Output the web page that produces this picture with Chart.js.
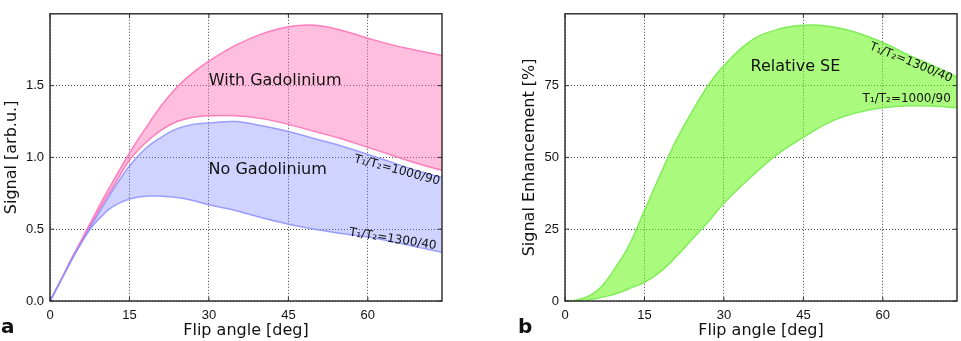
<!DOCTYPE html>
<html>
<head>
<meta charset="utf-8">
<script src="https://cdn.jsdelivr.net/npm/chart.js@4.4.1/dist/chart.umd.min.js"></script>
<style>
  body { margin: 0; background: #fff; }
  #wrap { position: relative; width: 961px; height: 341px; }
  #left { position: absolute; left: 0; top: 0; }
  #right { position: absolute; left: 480px; top: 0; }
</style>
</head>
<body>
<div id="wrap">
  <canvas id="left" width="480" height="341"></canvas>
  <canvas id="right" width="481" height="341"></canvas>
</div>
<script>
// flip angles (deg) the curves are sampled at
var flipAngle = [0, 2, 4, 6, 8, 10, 12, 15, 18, 21, 24, 27, 30, 35, 40, 45, 50, 55, 60, 65, 70, 74];

// panel a - signal [arb.u.]
var withGdUpper = [0, 0.14, 0.29, 0.43, 0.57, 0.71, 0.84, 1.03, 1.20, 1.36, 1.49, 1.59, 1.67, 1.78, 1.86, 1.91, 1.92, 1.885, 1.83, 1.78, 1.74, 1.71];
var withGdLower = [0, 0.14, 0.29, 0.42, 0.55, 0.68, 0.80, 0.98, 1.10, 1.19, 1.25, 1.28, 1.29, 1.29, 1.27, 1.23, 1.18, 1.13, 1.07, 1.01, 0.95, 0.91];
var noGdUpper = [0, 0.14, 0.28, 0.41, 0.54, 0.66, 0.78, 0.94, 1.06, 1.14, 1.20, 1.23, 1.24, 1.25, 1.22, 1.18, 1.13, 1.08, 1.02, 0.96, 0.90, 0.86];
var noGdLower = [0, 0.14, 0.28, 0.41, 0.52, 0.60, 0.66, 0.71, 0.73, 0.73, 0.72, 0.70, 0.67, 0.63, 0.58, 0.535, 0.50, 0.47, 0.445, 0.41, 0.37, 0.34];

// panel b - relative signal enhancement [%]
var seUpper = [0, 0.3, 1.3, 3.5, 7.5, 13, 19, 31.5, 44, 56, 66, 75, 82, 90.5, 94.5, 96, 95.6, 93.5, 90, 85.5, 81.5, 78];
var seLower = [0, 0.05, 0.3, 0.9, 1.7, 2.8, 4.2, 6.5, 10.2, 15.5, 21.5, 27.5, 34, 43, 51, 57, 62.3, 65.5, 67.3, 68, 67.8, 67.3];

// tick labels
var angleTicks = [0, 15, 30, 45, 60];
var signalTicks = [0, 0.5, 1.0, 1.5];
var seTicks = [0, 25, 50, 75];

function pts(ys) {
    return flipAngle.map(function (x, i) { return { x: x, y: ys[i] }; });
}

/* text drawn at data positions */
var notesPlugin = {
    id: "notes",
    afterDatasetsDraw: function (chart, args, opts) {
        var ctx = chart.ctx;
        (opts.items || []).forEach(function (n) {
            ctx.save();
            ctx.translate(chart.scales.x.getPixelForValue(n.x), chart.scales.y.getPixelForValue(n.y));
            ctx.rotate(n.angle * Math.PI / 180);
            ctx.font = n.size + 'px "DejaVu Sans"';
            ctx.fillStyle = "#111";
            ctx.textAlign = "center";
            ctx.textBaseline = "middle";
            ctx.fillText(n.text, 0, 0);
            ctx.restore();
        });
    }
};

/* box round the plot, inward ticks, panel letter */
var framePlugin = {
    id: "frame",
    afterDraw: function (chart, args, opts) {
        var ctx = chart.ctx, a = chart.chartArea;
        ctx.save();
        ctx.strokeStyle = "#333";
        ctx.lineWidth = 1.5;
        ctx.strokeRect(a.left, a.top, a.right - a.left, a.bottom - a.top);
        ctx.lineWidth = 1;
        ctx.beginPath();
        chart.scales.x.ticks.forEach(function (t) {
            var px = chart.scales.x.getPixelForValue(t.value);
            ctx.moveTo(px, a.bottom); ctx.lineTo(px, a.bottom - 4);
            ctx.moveTo(px, a.top); ctx.lineTo(px, a.top + 4);
        });
        chart.scales.y.ticks.forEach(function (t) {
            var py = chart.scales.y.getPixelForValue(t.value);
            ctx.moveTo(a.left, py); ctx.lineTo(a.left + 4, py);
            ctx.moveTo(a.right, py); ctx.lineTo(a.right - 4, py);
        });
        ctx.stroke();
        ctx.font = 'bold 20px "DejaVu Sans"';
        ctx.fillStyle = "#111";
        ctx.textAlign = "left";
        ctx.textBaseline = "alphabetic";
        ctx.fillText(opts.letter, opts.lx, opts.ly);
        ctx.restore();
    }
};

var gridStyle = {
    color: "#444",
    lineWidth: 1,
    drawTicks: false
};

function makeScales(yMin, yMax, yTicks, yTitle, yFmt, yWidth, yTitlePad) {
    return {
        x: {
            type: "linear",
            min: 0,
            max: 74,
            afterBuildTicks: function (ax) { ax.ticks = angleTicks.map(function (v) { return { value: v }; }); },
            afterFit: function (ax) { ax.height = 40; },
            border: { display: false, dash: [1, 2] },
            grid: gridStyle,
            ticks: { padding: 7, color: "#111", font: { family: "Liberation Sans", size: 13 }, maxRotation: 0 },
            title: { display: true, text: "Flip angle [deg]", color: "#111",
                     font: { family: "DejaVu Sans", size: 16 }, padding: { top: 0, bottom: 1 } }
        },
        y: {
            type: "linear",
            min: yMin,
            max: yMax,
            afterBuildTicks: function (ax) { ax.ticks = yTicks.map(function (v) { return { value: v }; }); },
            afterFit: function (ax) { ax.width = yWidth; },
            border: { display: false, dash: [1, 2] },
            grid: gridStyle,
            ticks: { padding: 6, color: "#111", font: { family: "Liberation Sans", size: 13 }, callback: yFmt },
            title: { display: true, text: yTitle, color: "#111",
                     font: { family: "DejaVu Sans", size: 16 }, padding: { top: yTitlePad, bottom: 0 } }
        }
    };
}

var lineBase = { pointRadius: 0, borderWidth: 1.5, tension: 0.4 };

var pinkLine = "rgba(255,120,185,0.95)", pinkFill = "rgba(255,110,180,0.45)";
var blueLine = "rgba(140,145,255,0.85)", blueFill = "rgba(110,115,255,0.32)";
var greenLine = "rgba(125,235,85,0.95)", greenFill = "rgba(100,245,20,0.55)";

new Chart(document.getElementById("left"), {
    type: "line",
    data: {
        datasets: [
            Object.assign({ label: "no Gd 1000/90", data: pts(noGdUpper), borderColor: blueLine, fill: false }, lineBase),
            Object.assign({ label: "no Gd 1300/40", data: pts(noGdLower), borderColor: blueLine, backgroundColor: blueFill, fill: "-1" }, lineBase),
            Object.assign({ label: "Gd lower", data: pts(withGdLower), borderColor: pinkLine, fill: false }, lineBase),
            Object.assign({ label: "Gd upper", data: pts(withGdUpper), borderColor: pinkLine, backgroundColor: pinkFill, fill: "-1" }, lineBase)
        ]
    },
    options: {
        responsive: false,
        animation: false,
        layout: { padding: { top: 2, right: 38, left: 0, bottom: 0 } },
        scales: makeScales(0, 2, signalTicks, "Signal [arb.u.]", function (v) { return Number(v).toFixed(1); }, 50, 2),
        plugins: {
            legend: { display: false },
            tooltip: { enabled: false },
            notes: { items: [
                { text: "With Gadolinium", x: 42.5, y: 1.53, angle: 0, size: 16 },
                { text: "No Gadolinium", x: 41.1, y: 0.91, angle: 0, size: 16 },
                { text: "T\u2081/T\u2082=1000/90", x: 65.5, y: 0.91, angle: 15, size: 12 },
                { text: "T\u2081/T\u2082=1300/40", x: 64.7, y: 0.43, angle: 9, size: 12 }
            ] },
            frame: { letter: "a", lx: 1, ly: 333 }
        }
    },
    plugins: [notesPlugin, framePlugin]
});

new Chart(document.getElementById("right"), {
    type: "line",
    data: {
        datasets: [
            Object.assign({ label: "SE 1000/90", data: pts(seLower), borderColor: greenLine, fill: false }, lineBase),
            Object.assign({ label: "SE 1300/40", data: pts(seUpper), borderColor: greenLine, backgroundColor: greenFill, fill: "-1" }, lineBase)
        ]
    },
    options: {
        responsive: false,
        animation: false,
        layout: { padding: { top: 2, right: 4, left: 0, bottom: 0 } },
        scales: makeScales(0, 100, seTicks, "Signal Enhancement [%]", function (v) { return v; }, 85, 40),
        plugins: {
            legend: { display: false },
            tooltip: { enabled: false },
            notes: { items: [
                { text: "Relative SE", x: 43.5, y: 81.6, angle: 0, size: 16 },
                { text: "T\u2081/T\u2082=1300/40", x: 65.3, y: 83, angle: 22, size: 12 },
                { text: "T\u2081/T\u2082=1000/90", x: 64.5, y: 70.5, angle: 0, size: 12 }
            ] },
            frame: { letter: "b", lx: 38, ly: 333 }
        }
    },
    plugins: [notesPlugin, framePlugin]
});
</script>
</body>
</html>
